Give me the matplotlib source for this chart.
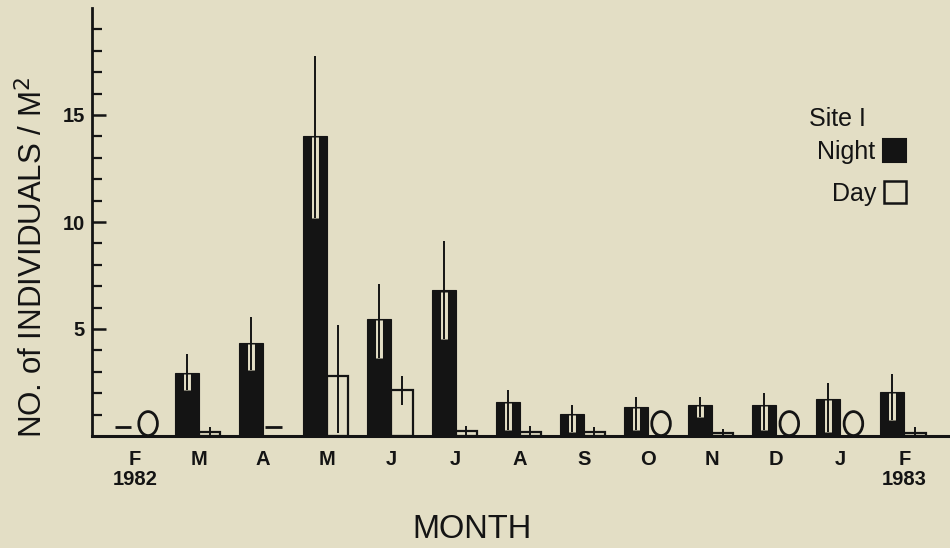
import matplotlib.pyplot as plt
from matplotlib.patches import Ellipse, Rectangle
import numpy as np

plt.rcParams["font.family"] = ["Liberation Sans", "DejaVu Sans"]

# month groups, Feb 1982 .. Feb 1983
months = ["F\n1982", "M", "A", "M", "J", "J", "A", "S", "O", "N", "D", "J", "F\n1983"]

# night samples: mean and ends of the error bar (nan = not drawn as a bar)
night_mean = [np.nan, 2.95, 4.35, 14.0, 5.45, 6.8, 1.6, 1.05, 1.35, 1.45, 1.45, 1.75, 2.05]
night_hi = [np.nan, 3.85, 5.55, 17.75, 7.1, 9.1, 2.15, 1.45, 1.8, 1.8, 2.0, 2.5, 2.9]
night_lo = [np.nan, 2.15, 3.1, 10.2, 3.65, 4.55, 0.28, 0.2, 0.3, 0.9, 0.3, 0.2, 0.75]

# day samples
day_mean = [np.nan, 0.2, np.nan, 2.8, 2.15, 0.25, 0.2, 0.2, np.nan, 0.15, np.nan, np.nan, 0.15]
day_hi = [np.nan, 0.4, np.nan, 5.2, 2.8, 0.45, 0.45, 0.4, np.nan, 0.35, np.nan, np.nan, 0.4]
day_lo = [np.nan, 0.0, np.nan, 0.15, 1.45, 0.05, 0.0, 0.0, np.nan, 0.0, np.nan, np.nan, 0.0]

# symbols drawn instead of a bar: "-" dash, "O" zero
night_symbol = ["-", None, None, None, None, None, None, None, None, None, None, None, None]
day_symbol = ["O", None, "-", None, None, None, None, None, "O", None, "O", "O", None]

BG = "#e3dec5"
INK = "#141414"
NIGHT_W = 0.374
DAY_W = 0.33

fig = plt.figure(figsize=(9.5, 5.48), dpi=100, facecolor=BG)
ax = fig.add_axes([92 / 950, 1 - 436 / 548, (948 - 92) / 950, (436 - 8) / 548])
ax.set_facecolor(BG)

x = np.arange(len(months))
night_x = x - NIGHT_W / 2
day_x = x + DAY_W / 2

ax.bar(night_x, night_mean, width=NIGHT_W, color=INK, edgecolor=INK, linewidth=0.8, zorder=2)
ax.bar(day_x, day_mean, width=DAY_W, color=BG, edgecolor=INK, linewidth=1.6, zorder=2)

# error bars: white strip inside the black bar, thin black line through it
for xi, m, hi, lo in zip(night_x, night_mean, night_hi, night_lo):
    if np.isnan(m):
        continue
    ax.vlines(xi, lo, m - 0.05, color=BG, linewidth=5.0, zorder=3)
    ax.vlines(xi, lo, hi, color=INK, linewidth=1.4, zorder=4)
for xi, m, hi, lo in zip(day_x, day_mean, day_hi, day_lo):
    if np.isnan(m):
        continue
    ax.vlines(xi, lo, hi, color=INK, linewidth=1.4, zorder=4)


# dash / zero symbols
def draw_symbol(xc, sym, shift):
    if sym == "-":
        ax.hlines(0.42, xc - 0.13, xc + 0.13, color=INK, linewidth=2.0, zorder=4)
    elif sym == "O":
        ax.add_patch(Ellipse((xc + shift, 0.58), 0.29, 1.12, facecolor="none",
                             edgecolor=INK, linewidth=2.0, zorder=4))


for xi, s in zip(night_x, night_symbol):
    draw_symbol(xi, s, 0.0)
for xi, s in zip(day_x, day_symbol):
    draw_symbol(xi, s, 0.04)

ax.set_xlim(-0.67, 12.68)
ax.set_ylim(0, 20)

for side in ["top", "right"]:
    ax.spines[side].set_visible(False)
ax.spines["left"].set_linewidth(2.0)
ax.spines["bottom"].set_linewidth(2.2)
ax.spines["left"].set_color(INK)
ax.spines["bottom"].set_color(INK)

ax.set_yticks([5, 10, 15])
ax.set_yticks([v for v in range(1, 20) if v % 5], minor=True)
ax.tick_params(axis="y", which="major", direction="in", length=10, width=1.8,
               labelsize=14.5, pad=5, colors=INK)
ax.tick_params(axis="y", which="minor", direction="in", length=7, width=1.6, colors=INK)
for lab in ax.get_yticklabels():
    lab.set_fontweight("bold")

ax.set_xticks(x)
ax.set_xticklabels(months, fontsize=14.5, linespacing=1.05, fontweight="bold")
ax.tick_params(axis="x", length=0, pad=10, colors=INK)

fig.text(472 / 950, 1 - 529 / 548, "MONTH", fontsize=23.5, color=INK, ha="center", va="center")
fig.text(33 / 950, 1 - 257 / 548, "NO. of INDIVIDUALS / M$^2$", fontsize=22.5, color=INK,
         rotation=90, ha="center", va="center")

# legend
fig.text(809 / 950, 1 - 119 / 548, "Site I", fontsize=18, color=INK, ha="left", va="center")
fig.text(875 / 950, 1 - 152 / 548, "Night", fontsize=18, color=INK, ha="right", va="center")
fig.text(876 / 950, 1 - 194 / 548, "Day", fontsize=18, color=INK, ha="right", va="center")
fig.patches.append(Rectangle((883 / 950, 1 - 162 / 548), 23 / 950, 23 / 548,
                             transform=fig.transFigure, facecolor=INK, edgecolor=INK, linewidth=1.5))
fig.patches.append(Rectangle((884 / 950, 1 - 203 / 548), 22 / 950, 22 / 548,
                             transform=fig.transFigure, facecolor="none", edgecolor=INK, linewidth=1.8))

fig.savefig("out.png", dpi=100, facecolor=BG)
